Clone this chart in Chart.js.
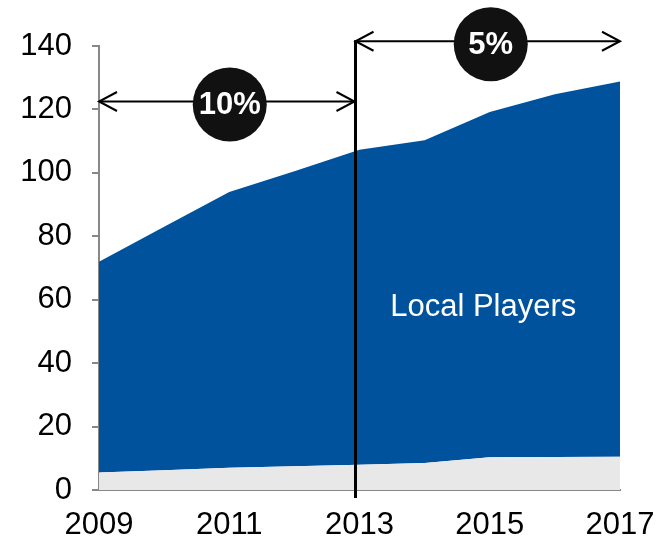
<!DOCTYPE html>
<html>
<head>
<meta charset="utf-8">
<script src="https://cdn.jsdelivr.net/npm/chart.js@4"></script>
<style>
    html, body { margin: 0; padding: 0; background: #fff; }
    #wrap { width: 664px; height: 546px; }
</style>
</head>
<body>
<div id="wrap"><canvas id="chart" width="664" height="546"></canvas></div>
<script>
const years = ["2009", "2010", "2011", "2012", "2013", "2014", "2015", "2016", "2017"];
const otherPlayers = [5.5, 6.2, 7, 7.5, 8, 8.5, 10.3, 10.4, 10.5];
const totalMarket = [72, 83, 94, 100.5, 107.3, 110.3, 119.2, 124.8, 128.8];
const localPlayers = totalMarket.map((t, i) => +(t - otherPlayers[i]).toFixed(1));

const yTicks = [0, 20, 40, 60, 80, 100, 120, 140];
const growthNotes = [
    { from: 0, to: 4, level: 122.5, text: "10%" },
    { from: 4, to: 8, level: 141.5, text: "5%" }
];
const seriesLabel = "Local Players";

const fontFamily = "'Liberation Sans', Arial, sans-serif";

function drawArrowHead(ctx, x, y, dir) {
    ctx.beginPath();
    ctx.moveTo(x + dir * 18, y - 9.5);
    ctx.lineTo(x, y);
    ctx.lineTo(x + dir * 18, y + 9.5);
    ctx.stroke();
}

const notesPlugin = {
    id: "notes",
    afterDatasetsDraw(chart) {
        const ctx = chart.ctx;
        const xs = chart.scales.x;
        const ys = chart.scales.y;
        ctx.save();

        // label inside the blue area
        ctx.fillStyle = "#ffffff";
        ctx.font = "31px " + fontFamily;
        ctx.textAlign = "center";
        ctx.textBaseline = "middle";
        ctx.fillText(seriesLabel, xs.getPixelForValue(5.9), ys.getPixelForValue(57.5));

        // vertical divider at 2013
        const divX = xs.getPixelForValue(4) - 4;
        ctx.strokeStyle = "#000";
        ctx.lineWidth = 3;
        ctx.beginPath();
        ctx.moveTo(divX, ys.getPixelForValue(growthNotes[1].level) - 1);
        ctx.lineTo(divX, ys.getPixelForValue(0) + 8);
        ctx.stroke();

        growthNotes.forEach(n => {
            const x1 = n.from === 0 ? xs.getPixelForValue(n.from) : divX;
            const x2 = n.to === 4 ? divX - 1 : xs.getPixelForValue(n.to);
            const y = ys.getPixelForValue(n.level);
            ctx.strokeStyle = "#000";
            ctx.lineWidth = 2;
            ctx.beginPath();
            ctx.moveTo(x1, y);
            ctx.lineTo(x2, y);
            ctx.stroke();
            drawArrowHead(ctx, x1, y, 1);
            drawArrowHead(ctx, x2, y, -1);

            const cx = (x1 + x2) / 2 + 3;
            const cy = y + 3;
            ctx.fillStyle = "#111111";
            ctx.beginPath();
            ctx.arc(cx, cy, 37, 0, Math.PI * 2);
            ctx.fill();
            ctx.fillStyle = "#ffffff";
            ctx.font = "bold 31px " + fontFamily;
            ctx.textAlign = "center";
            ctx.textBaseline = "middle";
            ctx.fillText(n.text, cx, cy + 1);
        });
        ctx.restore();
    }
};

new Chart(document.getElementById("chart"), {
    type: "line",
    data: {
        labels: years,
        datasets: [
            {
                label: "Other",
                data: otherPlayers,
                fill: "origin",
                backgroundColor: "#e8e8e8",
                borderWidth: 0,
                pointRadius: 0,
                tension: 0
            },
            {
                label: seriesLabel,
                data: localPlayers,
                fill: "-1",
                backgroundColor: "#00529c",
                borderWidth: 0,
                pointRadius: 0,
                tension: 0
            }
        ]
    },
    options: {
        responsive: false,
        animation: false,
        layout: { padding: { top: 46, right: 44, left: 0, bottom: 0 } },
        plugins: {
            legend: { display: false },
            tooltip: { enabled: false }
        },
        scales: {
            x: {
                offset: false,
                grid: { display: false, drawTicks: false },
                border: { display: true, color: "#888", width: 2 },
                ticks: {
                    autoSkip: false,
                    maxRotation: 0,
                    color: "#000",
                    padding: 17,
                    font: { family: fontFamily, size: 31 },
                    callback: (v, i) => (i % 2 === 0 ? years[i] : "")
                },
                afterFit: s => {
                    s.height = 56;
                    s.paddingLeft = 0;
                    s.paddingRight = 0;
                }
            },
            y: {
                stacked: true,
                min: 0,
                max: 140,
                afterBuildTicks: s => { s.ticks = yTicks.map(v => ({ value: v })); },
                grid: { drawOnChartArea: false, drawTicks: true, tickLength: 7, color: "#888", lineWidth: 2 },
                border: { display: true, color: "#888", width: 2 },
                ticks: {
                    color: "#000",
                    padding: 20,
                    font: { family: fontFamily, size: 31 }
                },
                afterFit: s => { s.width = 99; }
            }
        }
    },
    plugins: [notesPlugin]
});
</script>
</body>
</html>
